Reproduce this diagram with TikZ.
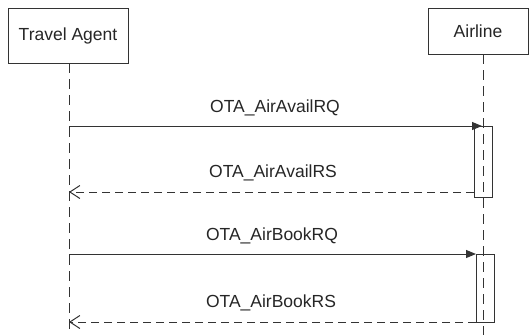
\documentclass[tikz,border=0pt]{standalone}
\usepackage{fontspec}
\setmainfont{Liberation Sans}
\usetikzlibrary{arrows.meta}
\begin{document}
\begin{tikzpicture}[x=1pt,y=-1pt,
  ink/.style={draw=black!80, line width=1pt},
  actor/.style={ink, fill=white, inner sep=0pt, text=black!85},
  lifeline/.style={ink, dash pattern=on 10pt off 6pt},
  activation/.style={ink, minimum width=18pt, inner sep=0pt},
  call/.style={ink, -{Triangle[length=10pt,width=8pt]}},
  reply/.style={ink, dash pattern=on 8pt off 5pt, -{Straight Barb[length=10pt,width=13pt,line width=1pt]}},
  msg/.style={anchor=base, text=black!85, inner sep=0pt},
  font=\fontsize{17.5}{21}\selectfont]
\useasboundingbox (0,0) rectangle (529,335);
% actors
\node[actor, minimum width=120pt, minimum height=55pt] (ta) at (68,35.5) {Travel Agent};
\node[actor, minimum width=100pt, minimum height=46pt] (al) at (478,31) {Airline};
% lifelines
\coordinate (taTop) at (69,63);  \coordinate (taEnd) at (69,335);
\coordinate (alTop) at (483,54); \coordinate (alEnd) at (483,335);
\draw[lifeline] (taTop) -- (taEnd);
\draw[lifeline] (alTop) -- (alEnd);
% activations
\node[activation, minimum height=71pt] (act1) at (483,161.5) {};
\node[activation, minimum height=68pt] (act2) at (485,288) {};
% message end points
\coordinate (m1s) at (69,126);  \coordinate (m1e) at (482,126);
\coordinate (m2s) at (474,192); \coordinate (m2e) at (69,192);
\coordinate (m3s) at (69,254);  \coordinate (m3e) at (476,254);
\coordinate (m4s) at (476,322); \coordinate (m4e) at (69,322);
% messages
\draw[call]  (m1s) -- (m1e);
\draw[reply] (m2s) -- (m2e);
\draw[call]  (m3s) -- (m3e);
\draw[reply] (m4s) -- (m4e);
% labels
\node[msg] (l1) at (275,112) {OTA\_AirAvailRQ};
\node[msg] (l2) at (273,177) {OTA\_AirAvailRS};
\node[msg] (l3) at (272,240) {OTA\_AirBookRQ};
\node[msg] (l4) at (271,307) {OTA\_AirBookRS};
\end{tikzpicture}
\end{document}
